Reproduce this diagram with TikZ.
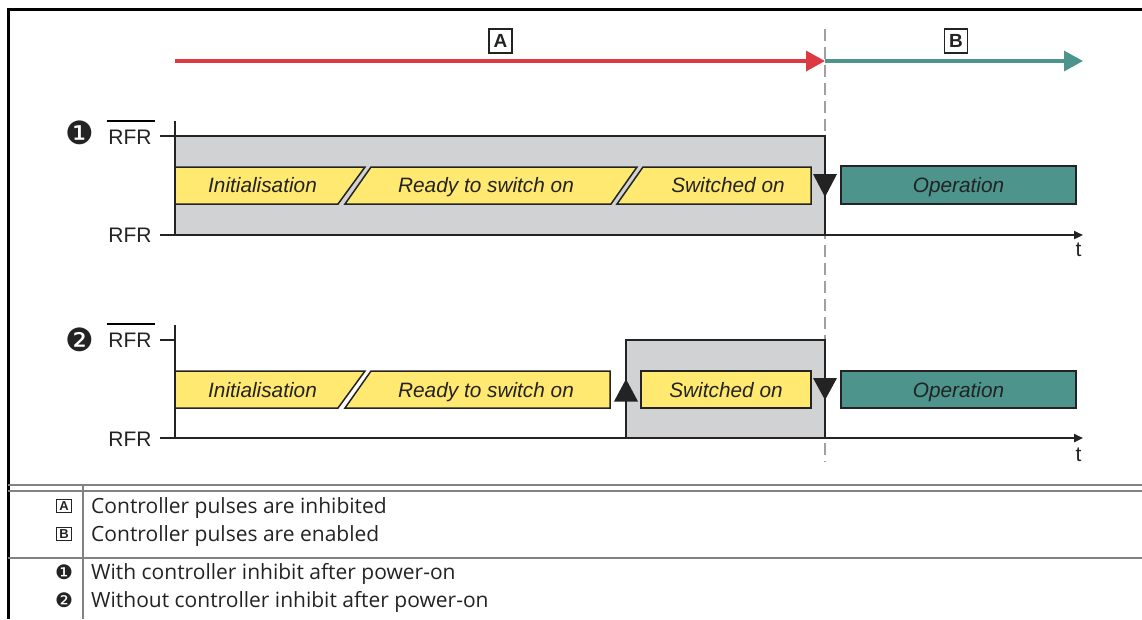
\documentclass[tikz,border=0pt]{standalone}
\usepackage{fontspec}
\setmainfont{Liberation Sans}
\newfontfamily\legendfont{Open Sans}
\newfontfamily\symfont{DejaVu Sans}
\usetikzlibrary{arrows.meta,positioning,calc}
\definecolor{lzred}{RGB}{221,57,67}
\definecolor{lzteal}{RGB}{76,148,140}
\definecolor{lzgrey}{RGB}{209,210,212}
\definecolor{lzyellow}{RGB}{255,233,112}
\definecolor{lzrule}{RGB}{130,130,130}
\definecolor{lzdash}{RGB}{160,160,160}
\definecolor{lzink}{RGB}{35,35,35}
\tikzset{
  x=1pt, y=-1pt,
  phase/.style    = {draw=lzink, line width=1.5pt, fill=lzyellow},
  oper/.style     = {draw=lzink, line width=1.5pt, fill=lzteal},
  inhibit/.style  = {fill=lzgrey},
  phaselbl/.style = {font=\fontsize{20.8}{24}\selectfont\itshape, text=lzink, inner sep=0pt, anchor=base},
  rfrlbl/.style   = {font=\fontsize{21}{24}\selectfont, text=lzink, inner sep=0pt},
  signal/.style   = {draw=lzink, line width=2.8pt, line join=miter},
  axisline/.style = {draw=lzink, line width=2.2pt, -{Triangle[length=9pt,width=8pt]}},
  tickline/.style = {draw=lzink, line width=1.6pt},
  phasearr/.style = {line width=3.2pt, -{Triangle[length=19pt,width=20pt]}},
  edgetip/.style  = {fill=lzink},
  numbadge/.style = {font=\symfont\fontsize{32}{34}\selectfont, text=lzink, inner sep=0pt},
  boxlet/.style   = {draw=lzink, line width=1.2pt, font=\bfseries\fontsize{19}{20}\selectfont,
                     text=lzink, minimum width=23pt, minimum height=24pt, inner sep=0pt},
  smallbox/.style = {draw=lzink, line width=1pt, font=\bfseries\fontsize{13}{14}\selectfont,
                     text=lzink, minimum width=15pt, minimum height=13pt, inner sep=0pt},
  smallnum/.style = {font=\symfont\fontsize{20}{22}\selectfont, text=lzink, inner sep=0pt},
  legend/.style   = {font=\legendfont\fontsize{21}{24}\selectfont, text=lzink, inner sep=0pt, anchor=base west},
  rule/.style     = {draw=lzrule, line width=2.2pt},
}
\begin{document}
\begin{tikzpicture}
  \useasboundingbox (0,0) rectangle (1142,619);
  % frame and legend table
  \draw[line width=3pt] (8,619) -- (8,9) -- (1142,9);
  \draw[rule] (8,485) -- (1142,485);
  \draw[rule] (8,491) -- (1142,491);
  \draw[rule] (8,558) -- (1142,558);
  \draw[rule] (83,485) -- (83,619);

  % phases A and B
  \coordinate (pa) at (175,61);
  \coordinate (pab) at (825,61);
  \coordinate (pb) at (1083,61);
  \draw[phasearr, lzred] (pa) -- (pab);
  \draw[phasearr, lzteal] (pab) -- (pb);
  \node[boxlet] (boxA) at (500.5,41) {A};
  \node[boxlet] (boxB) at (956,41) {B};

  % inhibited areas
  \fill[inhibit] (175,136) rectangle (825,235);
  \fill[inhibit] (626,340) rectangle (825,438);

  % change-over A/B
  \draw[lzdash, line width=2.8pt, dash pattern=on 12pt off 6pt] (825,29) -- (825,462);

  % --- case 1
  \node[numbadge] (n1) at (80,133) {❶};
  \node[rfrlbl] (r1hi) at (130,137.5) {RFR};
  \draw[line width=1.4pt] ($(r1hi.north west)+(-1.5,-9)$) -- ($(r1hi.north east)+(3,-9)$);
  \node[rfrlbl] (r1lo) at (130,235) {RFR};
  \draw[tickline] (160,136) -- (175,136);
  \draw[tickline] (160,235) -- (175,235);
  \draw[tickline] (175,121) -- (175,235);

  \draw[phase] (175,167) -- (365,167) -- (338,204) -- (175,204) -- cycle;
  \draw[phase] (371,167) -- (637,167) -- (611,204) -- (345,204) -- cycle;
  \draw[phase] (643,167) -- (811,167) -- (811,204) -- (617,204) -- cycle;
  \draw[oper] (841,166) rectangle (1076,204);
  \node[phaselbl] (init1) at (262.5,192.8) {Initialisation};
  \node[phaselbl] (rdy1) at (486,192.8) {Ready to switch on};
  \node[phaselbl] (son1) at (728,192.8) {Switched on};
  \node[phaselbl] (op1) at (958.5,192.8) {Operation};

  \draw[signal] (175,136) -- (825,136) -- (825,235);
  \draw[axisline] (175,235) -- (1083,235);
  \fill[edgetip] (813,174) -- (837,174) -- (825,197) -- cycle;
  \node[rfrlbl] (t1) at (1078.5,250) {t};

  % --- case 2
  \node[numbadge] (n2) at (80,340) {❷};
  \node[rfrlbl] (r2hi) at (130,340.5) {RFR};
  \draw[line width=1.4pt] ($(r2hi.north west)+(-1.5,-9)$) -- ($(r2hi.north east)+(3,-9)$);
  \node[rfrlbl] (r2lo) at (130,439) {RFR};
  \draw[tickline] (160,340) -- (175,340);
  \draw[tickline] (160,438) -- (175,438);
  \draw[tickline] (175,325) -- (175,438);

  \draw[phase] (175,371) -- (365,371) -- (338,408) -- (175,408) -- cycle;
  \draw[phase] (371,371) -- (610,371) -- (610,408) -- (345,408) -- cycle;
  \draw[phase] (641,371) rectangle (811,408);
  \draw[oper] (841,371) rectangle (1076,408);
  \node[phaselbl] (init2) at (262.5,397.3) {Initialisation};
  \node[phaselbl] (rdy2) at (486,397.3) {Ready to switch on};
  \node[phaselbl] (son2) at (726,397.3) {Switched on};
  \node[phaselbl] (op2) at (958.5,397.3) {Operation};

  \draw[signal] (175,438) -- (626,438) -- (626,340) -- (825,340) -- (825,438);
  \draw[axisline] (175,438) -- (1083,438);
  \fill[edgetip] (614,401.5) -- (638,401.5) -- (626,379) -- cycle;
  \fill[edgetip] (813,378) -- (837,378) -- (825,400) -- cycle;
  \node[rfrlbl] (t2) at (1078.5,455) {t};

  % legend
  \node[smallbox] (lgA) at (64,506) {A};
  \node[smallbox] (lgB) at (64,534) {B};
  \node[smallnum] (lg1) at (64,572) {❶};
  \node[smallnum] (lg2) at (64,600) {❷};
  \node[legend] (txA) at (91,513.5) {Controller pulses are inhibited};
  \node[legend] (txB) at (91,541.5) {Controller pulses are enabled};
  \node[legend] (tx1) at (91,579.5) {With controller inhibit after power-on};
  \node[legend] (tx2) at (91,607.5) {Without controller inhibit after power-on};
\end{tikzpicture}
\end{document}
